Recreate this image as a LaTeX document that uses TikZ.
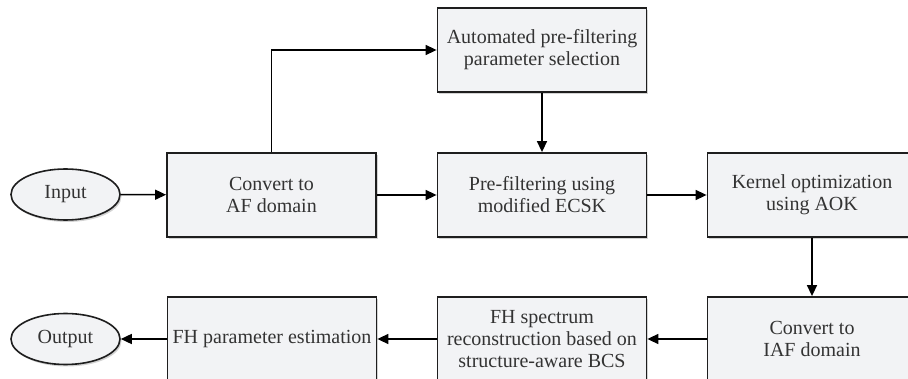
\documentclass[tikz,border=0pt]{standalone}
\usepackage{fontspec}
\setmainfont{Liberation Serif}
\usetikzlibrary{arrows.meta,shadows,shapes.geometric}

\definecolor{boxfill}{HTML}{F2F3F5}
\definecolor{boxline}{HTML}{1E1E1E}
\definecolor{boxtext}{HTML}{333333}

\tikzset{
  block/.style = {draw=boxline, line width=1.8pt, fill=boxfill, text=boxtext,
                  minimum width=209pt, minimum height=84pt, align=center,
                  font=\fontsize{20pt}{22pt}\selectfont,
                  drop shadow={shadow xshift=1.5pt, shadow yshift=-2pt, opacity=0.35}},
  term/.style  = {ellipse, draw=boxline, line width=1.6pt, fill=boxfill, text=boxtext,
                  minimum width=109pt, minimum height=51pt, inner sep=0pt,
                  font=\fontsize{20pt}{22pt}\selectfont,
                  drop shadow={shadow xshift=1.5pt, shadow yshift=-2pt, opacity=0.35}},
  flow/.style  = {line width=1.5pt, -{Triangle[length=11pt,width=10pt]}}
}

\begin{document}
\begin{tikzpicture}[x=1pt, y=-1pt]
\useasboundingbox (0,0) rectangle (908,379);

\node[term]  (input)   at (65.5,194.5) {Input};
\node[block] (conv)    at (271.5,195) {Convert to\\AF domain};
\node[block] (auto)    at (542,50)    {Automated pre-filtering\\parameter selection};
\node[block] (prefilt) at (542,195)   {Pre-filtering using\\modified ECSK};
\node[block] (kernel)  at (812,195)   {Kernel optimization\\using AOK};
\node[block] (iaf)     at (812,339)   {Convert to\\IAF domain};
\node[block] (recon)   at (542,339)   {FH spectrum\\reconstruction based on\\structure-aware BCS};
\node[block] (est)     at (272,339)   {FH parameter estimation};
\node[term]  (output)  at (65.5,339)  {Output};

\draw[flow] (input) -- (conv);
\draw[flow] (conv.north) |- (auto.west);
\draw[flow] (auto) -- (prefilt);
\draw[flow] (conv) -- (prefilt);
\draw[flow] (prefilt) -- (kernel);
\draw[flow] (kernel) -- (iaf);
\draw[flow] (iaf) -- (recon);
\draw[flow] (recon) -- (est);
\draw[flow] (est) -- (output);
\end{tikzpicture}
\end{document}
